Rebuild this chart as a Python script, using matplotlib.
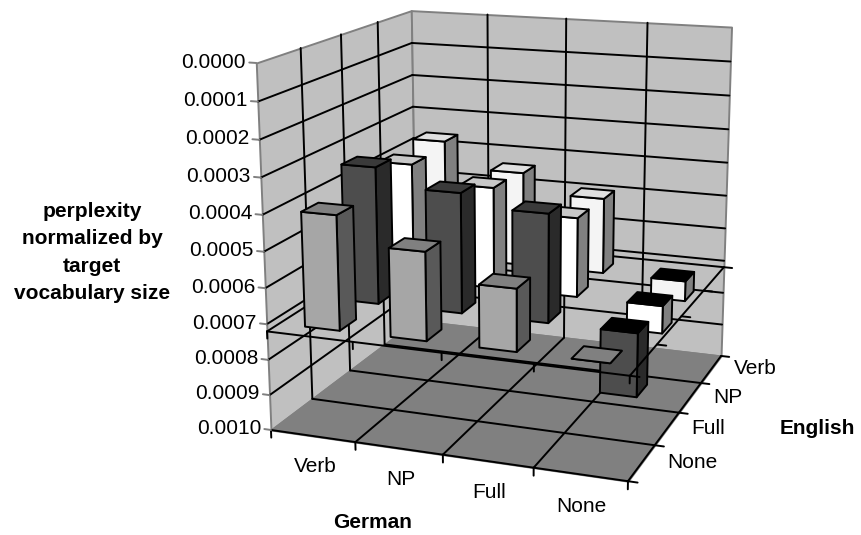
import matplotlib
matplotlib.use('Agg')
from matplotlib import pyplot as plt
from mpl_toolkits.mplot3d import proj3d
from mpl_toolkits.mplot3d.art3d import Poly3DCollection

plt.rcParams['font.family'] = ['Liberation Sans', 'DejaVu Sans']

german = ['Verb', 'NP', 'Full', 'None']
english = ['None', 'Full', 'NP', 'Verb']

# one list per english row, front to back, german columns left to right
row_none = [0.000402, 0.000477, 0.00055, 0.00072]
row_full = [0.000329, 0.00038, 0.000415, 0.00090]
row_np = [0.000376, 0.000424, 0.00049, 0.00080]
row_verb = [0.00036, 0.000437, 0.000494, 0.00078]
rows = [row_none, row_full, row_np, row_verb]

value_ticks = [0.0000, 0.0001, 0.0002, 0.0003, 0.0004, 0.0005, 0.0006, 0.0007, 0.0008, 0.0009, 0.0010]
z_cross = 0.00072

# front, side, top
row_colors = [('#a6a6a6', '#595959', '#808080'),
              ('#4d4d4d', '#2a2a2a', '#3a3a3a'),
              ('#ffffff', '#808080', '#c8c8c8'),
              ('#f4f4f4', '#808080', '#e0e0e0')]

W, H = 861, 535
lw = 1.4
bar_x = 0.41
bar_y = 0.41
z_top, z_bot = 0.0, 0.0010

fig = plt.figure(figsize=(W / 100, H / 100), dpi=100)
ax = fig.add_subplot(projection='3d', computed_zorder=False)
size = 603.18
ax.set_position([198.9 / W, 3.2 / H, size / W, size / H])
ax.set_axis_off()
ax.set_xlim(0, 4)
ax.set_ylim(0, 4)
ax.set_zlim(z_bot, z_top)
ax.view_init(15.057, -69.795, 0.104)
ax.set_proj_type('persp', focal_length=0.531)
ax.set_box_aspect((1, 0.996, 0.999))


def face(verts, fc, ec, zo, lw=lw):
    p = Poly3DCollection([verts], facecolors=fc, edgecolors=ec, linewidths=lw, zorder=zo)
    ax.add_collection3d(p, autolim=False)


def line(xs, ys, zs, zo=2, c='black', lw=lw):
    ax.plot(xs, ys, zs, color=c, lw=lw, zorder=zo, solid_capstyle='round')


def label(x, y, z, s, ha):
    xp, yp, _ = proj3d.proj_transform(x, y, z, ax.get_proj())
    ax.text2D(xp, yp, s, transform=ax.transData, fontsize=15, ha=ha, va='center', color='black')


# walls and floor
face([(0, 0, z_top), (0, 4, z_top), (0, 4, z_bot), (0, 0, z_bot)], '#c0c0c0', '#808080', 1)
face([(0, 4, z_top), (4, 4, z_top), (4, 4, z_bot), (0, 4, z_bot)], '#c0c0c0', '#808080', 1)
face([(0, 0, z_bot), (4, 0, z_bot), (4, 4, z_bot), (0, 4, z_bot)], '#808080', '#808080', 1)

# grid
for v in value_ticks[1:-1]:
    line([0, 0], [0, 4], [v, v])
    line([0, 4], [4, 4], [v, v])
for i in [1, 2, 3]:
    line([0, 0], [i, i], [z_top, z_bot])
    line([i, i], [4, 4], [z_top, z_bot])
    line([i, i], [0, 4], [z_bot, z_bot])
    line([0, 4], [i, i], [z_bot, z_bot])
line([0, 4], [0, 0], [z_bot, z_bot], 3)
line([4, 4], [0, 4], [z_bot, z_bot], 3)

# ticks on the floor and the value axis
for i in range(5):
    line([i, i], [0, 0], [z_bot, z_bot + 0.000022], 3)
    line([4, 4.1], [i, i], [z_bot, z_bot], 3)
for v in value_ticks:
    line([0, -0.08], [0, 0], [v, v], 3, '#808080')

# back and left edge of the plane the bars stand on
line([0, 0], [0, 4], [z_cross, z_cross], 3)
line([0, 4], [4, 4], [z_cross, z_cross], 3)

# bars, back to front
zo = 10
for j in range(3, -1, -1):
    front, side, top = row_colors[j]
    for i in range(4):
        v = rows[j][i]
        x0 = i + (1 - bar_x) / 2
        x1 = x0 + bar_x
        y0 = j + (1 - bar_y) / 2
        y1 = y0 + bar_y
        zt = min(v, z_cross)
        zb = max(v, z_cross)
        top_c = 'black' if v > z_cross else top
        face([(x1, y0, zt), (x1, y1, zt), (x1, y1, zb), (x1, y0, zb)], side, 'black', zo)
        face([(x0, y0, zt), (x1, y0, zt), (x1, y0, zb), (x0, y0, zb)], front, 'black', zo + 0.1)
        face([(x0, y0, zt), (x1, y0, zt), (x1, y1, zt), (x0, y1, zt)], top_c, 'black', zo + 0.2)
        zo += 1

# front and right edge of the plane, over the bars
line([0, 4], [0, 0], [z_cross, z_cross], 50)
line([4, 4], [0, 4], [z_cross, z_cross], 50)
for i in range(5):
    line([i, i], [0, 0], [z_cross, z_cross + 0.00002], 50)
    line([4, 4.1], [i, i], [z_cross, z_cross], 50)

# labels
for v in value_ticks:
    label(-0.12, 0, v, f'{v:.4f}', 'right')
for i, name in enumerate(german):
    label(i + 0.515, 0, 0.000107 + z_bot - 0.00002, name, 'center')
for j, name in enumerate(english):
    label(4.27, j + 0.5, 0.00099, name, 'left')

fig.text(372.5 / W, 1 - 522 / H, 'German', fontsize=15, fontweight='bold', ha='center', va='center')
fig.text(817.5 / W, 1 - 429 / H, 'English', fontsize=15, fontweight='bold', ha='center', va='center')
fig.text(92 / W, 1 - 252.5 / H, 'perplexity\nnormalized by\ntarget\nvocabulary size', fontsize=15,
         fontweight='bold', ha='center', va='center', linespacing=1.55)

fig.savefig('out.png', dpi=100)
